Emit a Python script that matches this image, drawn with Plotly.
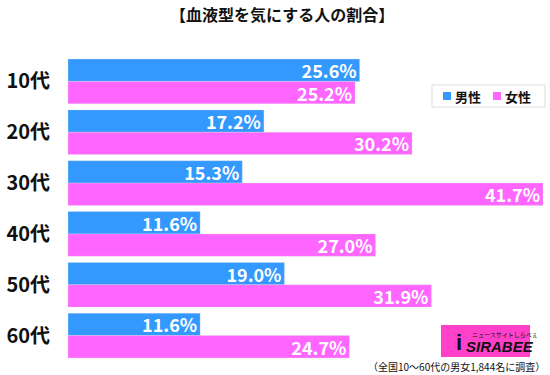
import plotly.graph_objects as go

categories = ["10代", "20代", "30代", "40代", "50代", "60代"]
male = [25.6, 17.2, 15.3, 11.6, 19.0, 11.6]
female = [25.2, 30.2, 41.7, 27.0, 31.9, 24.7]
series_names = ["男性", "女性"]
title_text = "【血液型を気にする人の割合】"
note_text = "（全国10～60代の男女1,844名に調査）"

FONT = "Noto Sans CJK JP"
BLUE = "#3399FF"
PINK = "#FF66FF"
W, H = 550, 375
ML, MR, MT, MB = 68, 7, 56, 14
PW, PH = W - ML - MR, H - MT - MB


def px(x):
    return (x - ML) / PW


def py(y):
    return (H - MB - y) / PH


fig = go.Figure()
for name, vals, col in [(series_names[0], male, BLUE), (series_names[1], female, PINK)]:
    fig.add_trace(go.Bar(
        y=categories, x=vals, name=name, orientation="h",
        marker=dict(color=col, line=dict(color="rgba(220,220,220,0.6)", width=0.5)),
        text=[f"{v:.1f}%" for v in vals], textposition="inside",
        insidetextanchor="end",
        textfont=dict(family=FONT, size=18, color="white", weight="bold"),
        showlegend=False,
    ))

fig.update_layout(
    width=W, height=H,
    margin=dict(l=ML, r=MR, t=MT, b=MB, autoexpand=False),
    paper_bgcolor="white", plot_bgcolor="white",
    barmode="group", bargap=0.12, bargroupgap=0,
    uniformtext=dict(minsize=18, mode="show"),
    font=dict(family=FONT, color="#111111"),
    showlegend=False,
    xaxis=dict(range=[0, 41.7], visible=False, automargin=False),
    yaxis=dict(autorange="reversed", showgrid=False, showline=False, ticks="",
               automargin=False,
               tickfont=dict(family=FONT, size=20, color="#111111", weight="bold"),
               ticklabelstandoff=17),
)

fig.add_annotation(text=title_text, xref="paper", yref="paper", x=px(282), y=py(14),
                   xanchor="center", yanchor="middle", showarrow=False,
                   font=dict(family=FONT, size=16, weight="bold", color="#111111"))

# legend (drawn manually)
fig.add_shape(type="rect", xref="paper", yref="paper",
              x0=px(432), x1=px(545), y0=py(107), y1=py(85),
              fillcolor="white", line=dict(color="#DDDDDD", width=1), layer="above")
for i, (name, col) in enumerate(zip(series_names, [BLUE, PINK])):
    sx = 443 + i * 50
    fig.add_shape(type="rect", xref="paper", yref="paper",
                  x0=px(sx), x1=px(sx + 8), y0=py(100), y1=py(92),
                  fillcolor=col, line=dict(width=0), layer="above")
    fig.add_annotation(text=name, xref="paper", yref="paper", x=px(sx + 10), y=py(96),
                       xanchor="left", yanchor="middle", showarrow=False,
                       font=dict(family=FONT, size=13, weight="bold", color="#111111"))

# logo
fig.add_shape(type="rect", xref="paper", yref="paper",
              x0=px(441), x1=px(530), y0=py(357), y1=py(325),
              fillcolor="#FF40C8", line=dict(width=0), layer="above")
fig.add_annotation(text="<b><i>SIRABEE</i></b>", xref="paper", yref="paper",
                   x=px(500), y=py(346), xanchor="center", yanchor="middle", showarrow=False,
                   font=dict(family="Liberation Sans", size=15, color="#111111"))
fig.add_annotation(text="ニュースサイトしらべぇ", xref="paper", yref="paper",
                   x=px(505), y=py(334), xanchor="center", yanchor="middle", showarrow=False,
                   font=dict(family=FONT, size=6, color="#111111"))
fig.add_annotation(text="<b>i</b>", xref="paper", yref="paper",
                   x=px(459), y=py(342), xanchor="center", yanchor="middle", showarrow=False,
                   font=dict(family="Liberation Sans", size=22, color="#111111"))
fig.add_annotation(text=note_text, xref="paper", yref="paper",
                   x=px(547), y=py(366), xanchor="right", yanchor="middle", showarrow=False,
                   font=dict(family=FONT, size=10, color="#111111"))

fig.write_html("out.html", config={"displayModeBar": False},
               post_script="document.body.style.margin='0';document.body.style.padding='0';document.body.style.overflow='hidden';")
